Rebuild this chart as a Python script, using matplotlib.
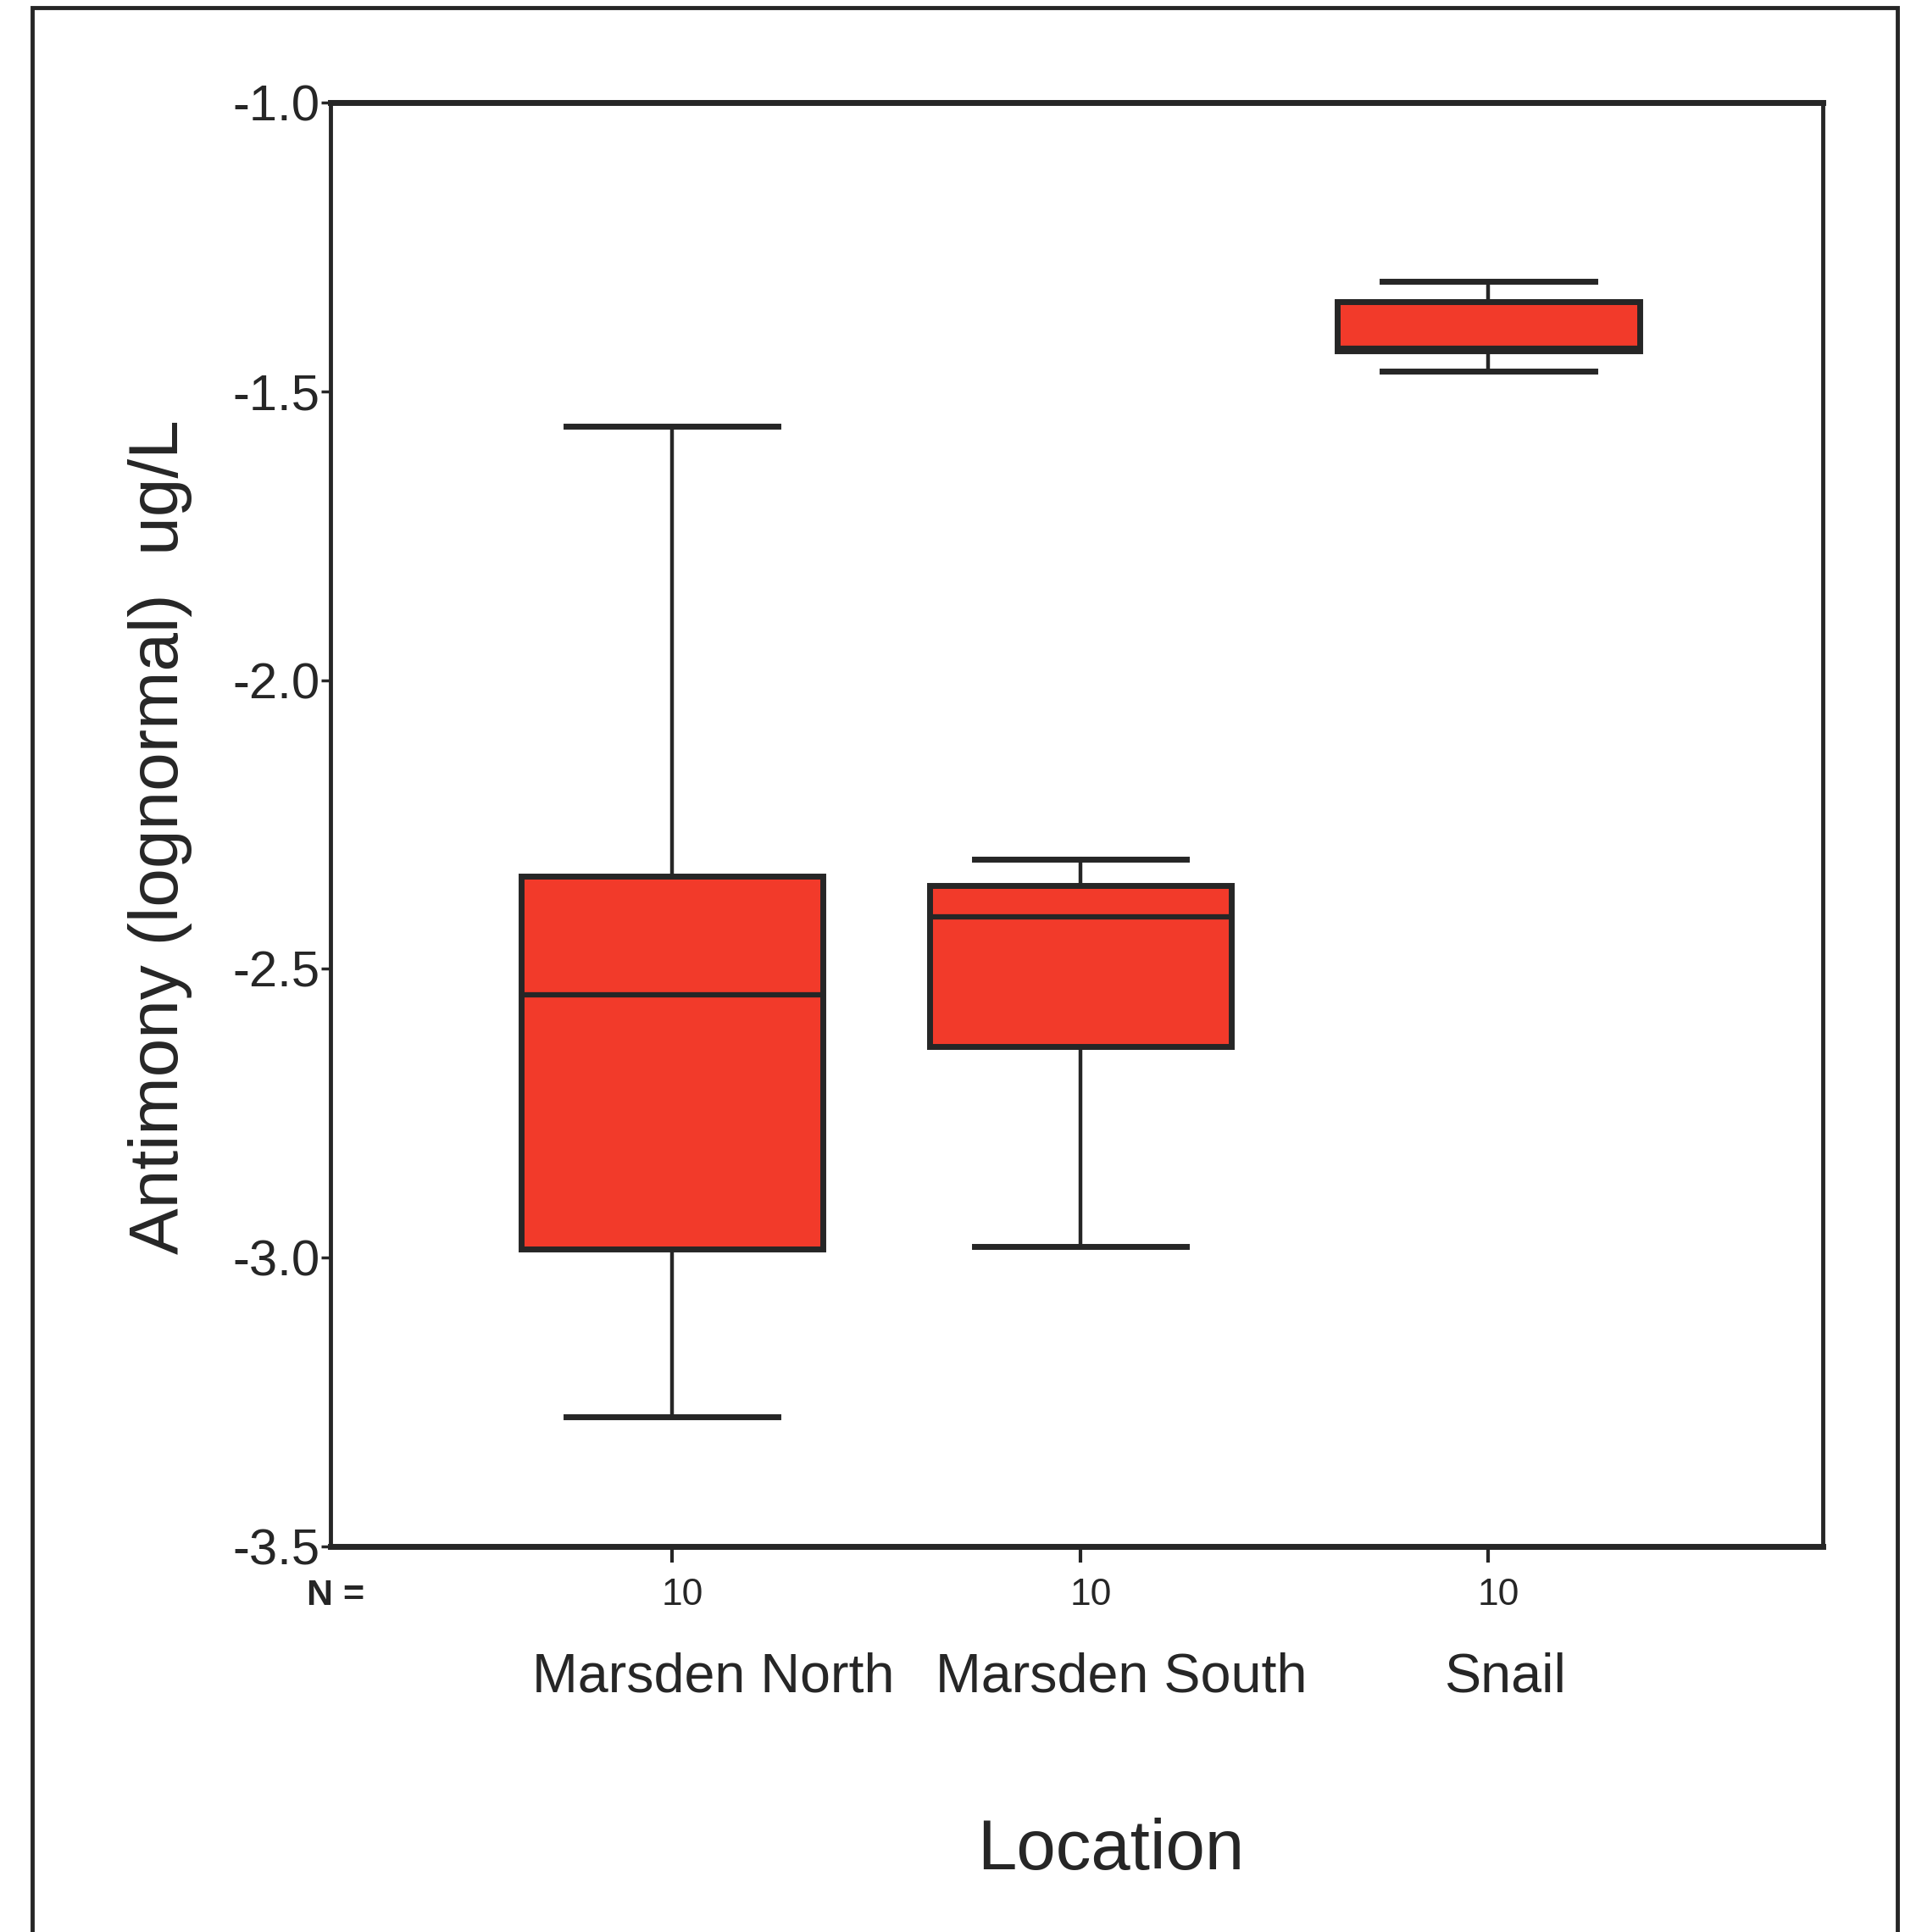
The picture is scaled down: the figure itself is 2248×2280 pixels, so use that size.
import matplotlib
matplotlib.use("Agg")
import matplotlib.pyplot as plt
from matplotlib.patches import Rectangle

plt.rcParams['font.family'] = ['Liberation Sans', 'DejaVu Sans']
plt.rcParams['axes.unicode_minus'] = False

# data (log antimony, ug/L)
locations = ['Marsden North', 'Marsden South', 'Snail']
counts = [10, 10, 10]
whis_hi = [-1.56, -2.31, -1.31]
q3 = [-2.34, -2.355, -1.345]
medians = [-2.545, -2.41, -1.425]
q1 = [-2.985, -2.635, -1.43]
whis_lo = [-3.275, -2.98, -1.465]
yticks = [-1.0, -1.5, -2.0, -2.5, -3.0, -3.5]

RED = '#f23a2a'
INK = '#262626'

fig = plt.figure(figsize=(22.48, 22.8), dpi=100)
ax = fig.add_axes([0.1735, 0.1996, 0.7835, 0.7473])

stats = []
for i in range(len(locations)):
    stats.append(dict(label=locations[i], med=medians[i], q1=q1[i], q3=q3[i],
                      whislo=whis_lo[i], whishi=whis_hi[i], fliers=[]))

pos = [1, 2, 3]
ax.bxp(stats, positions=pos, widths=0.74, capwidths=0.52, patch_artist=True,
       showfliers=False,
       boxprops=dict(facecolor=RED, edgecolor=INK, linewidth=5),
       medianprops=dict(color=INK, linewidth=4.5),
       whiskerprops=dict(color=INK, linewidth=3.2),
       capprops=dict(color=INK, linewidth=5))

ax.set_xlim(0.163, 3.82)
ax.set_ylim(-3.5, -1.0)
ax.set_yticks(yticks)
ax.set_yticklabels(['%.1f' % t for t in yticks])
ax.set_xticks(pos)
ax.set_xticklabels([])
ax.tick_params(axis='y', direction='out', length=8, width=2.5, pad=1,
               labelsize=43, colors=INK)
ax.tick_params(axis='x', direction='out', length=14, width=3, colors=INK)
for s in ax.spines.values():
    s.set_linewidth(5)
    s.set_color(INK)
ax.spines['left'].set_linewidth(3.5)
ax.spines['right'].set_linewidth(3.5)

# N row and category names under the axis
tr = ax.get_xaxis_transform()
for i in range(len(locations)):
    ax.text(pos[i] + 0.025, -0.034, str(counts[i]), transform=tr,
            ha='center', va='center', fontsize=32, color=INK)
name_shift = [0.1, 0.1, 0.04]
for i in range(len(locations)):
    ax.text(pos[i] + name_shift[i], -0.091, locations[i], transform=tr,
            ha='center', va='center', fontsize=46.5, color=INK)
fig.text(0.161, 0.174, 'N =', ha='left', va='center', fontsize=31,
         fontweight='bold', color=INK)

fig.text(0.583, 0.042, 'Location', ha='center', va='center', fontsize=60,
         color=INK)
fig.text(0.084, 0.567, 'Antimony (lognormal)  ug/L', rotation=90,
         ha='center', va='center', fontsize=59, color=INK)

# scanned page frame
fig.patches.append(Rectangle((0.017, -0.05), 0.979, 1.046, transform=fig.transFigure,
                             fill=False, edgecolor=INK, linewidth=3.5))

fig.savefig('out.png', dpi=100)
